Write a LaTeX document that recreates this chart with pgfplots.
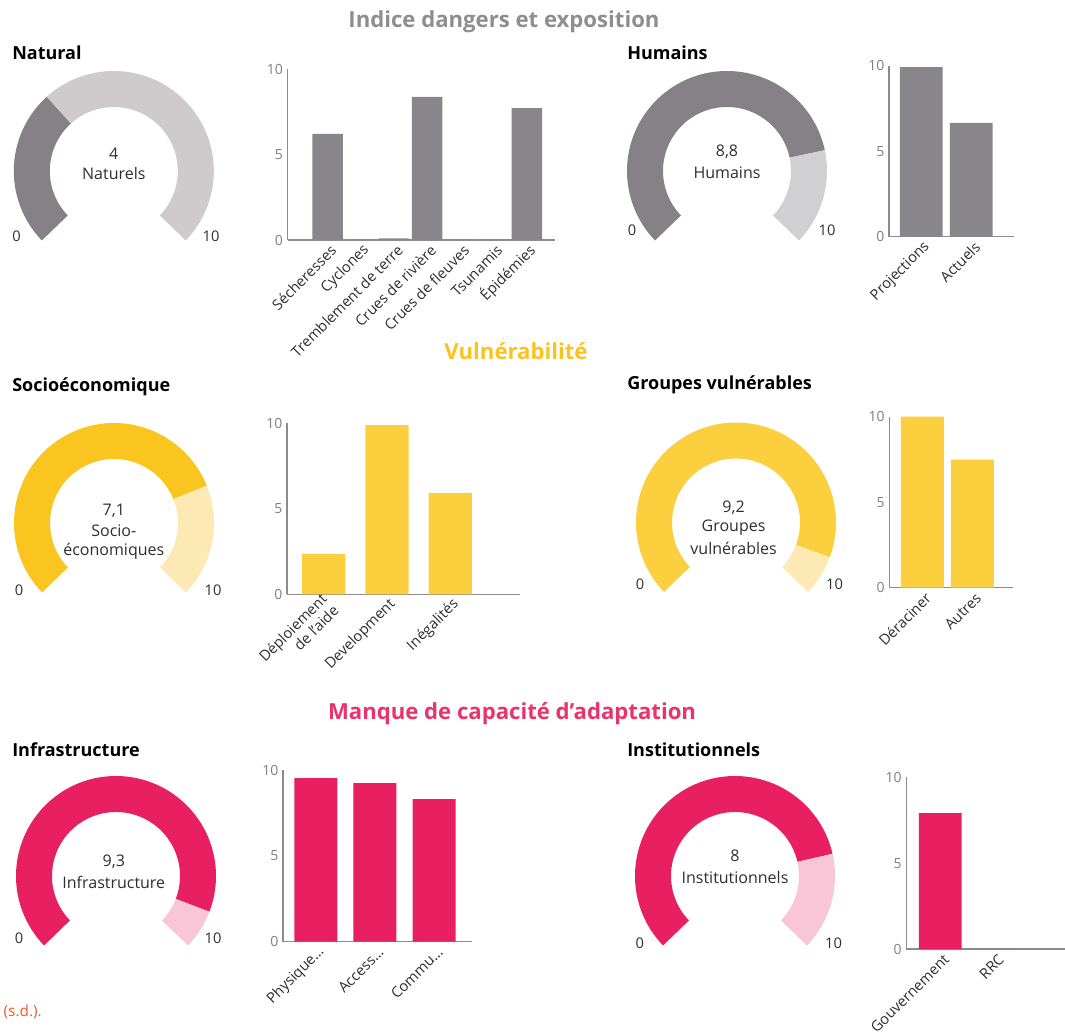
\documentclass[border=0pt]{standalone}
\usepackage{pgfplots}
\pgfplotsset{compat=1.18}
\usepackage{fontspec}
\setmainfont{Open Sans}
\definecolor{gdark}{HTML}{858186}
\definecolor{glight}{HTML}{CFCACC}
\definecolor{glight2}{HTML}{D0D0D2}
\definecolor{bgray}{HTML}{88858B}
\definecolor{ydark}{HTML}{FBC520}
\definecolor{ybarc}{HTML}{FCCF3E}
\definecolor{ylight}{HTML}{FDE9B3}
\definecolor{pdark}{HTML}{E81F61}
\definecolor{plight}{HTML}{F8C6D6}
\definecolor{axgray}{HTML}{8C8C8C}
\definecolor{tickgray}{HTML}{7F7F7F}
\definecolor{labdark}{HTML}{2E2E2E}
\definecolor{hgray}{HTML}{8E8D92}
\definecolor{hyellow}{HTML}{FBC31C}
\definecolor{hpink}{HTML}{E8336D}
\definecolor{src}{HTML}{F15A29}

\pgfplotsset{
  barax/.style={scale only axis, enlargelimits=false, ymin=0, ymax=10,
    ytick={0,5,10}, axis x line=bottom, axis y line=left,
    axis line style={-, draw=axgray, line width=0.9pt},
    major tick length=0pt, xtick=data,
    yticklabel style={text=tickgray, font=\fontsize{10.5}{12}\selectfont},
    xticklabel style={yshift=-3.5pt, xshift=7pt, rotate=45, anchor=east, text=labdark, align=right,
      font=\fontsize{11}{12.5}\selectfont},
    /pgf/number format/assume math mode=true,
    anchor=south west, clip=false},
}

% gauge: cx, cy (px), value, dark colour, light colour
\newcommand{\gauge}[5]{%
  \pgfmathsetmacro{\ga}{224-26.8*#3}%
  \begin{axis}[at={(#1*0.75pt,-#2*0.75pt)}, anchor=center, hide axis, clip=false,
      x=0.75pt, y=0.75pt, xmin=-110, xmax=110, ymin=-110, ymax=110]
    \fill[#4] (axis cs:{100*cos(224)},{100*sin(224)}) arc[start angle=224, end angle=\ga, radius=75pt]
      -- (axis cs:{64*cos(\ga)},{64*sin(\ga)}) arc[start angle=\ga, end angle=224, radius=48pt] -- cycle;
    \fill[#5] (axis cs:{100*cos(\ga)},{100*sin(\ga)}) arc[start angle=\ga, end angle=-44, radius=75pt]
      -- (axis cs:{64*cos(-44)},{64*sin(-44)}) arc[start angle=-44, end angle=\ga, radius=48pt] -- cycle;
  \end{axis}}

\begin{document}
\begin{tikzpicture}
\useasboundingbox (0,0) rectangle (798.75pt,-775.5pt);

% section headers
\tikzset{shead/.style={font=\bfseries\fontsize{16.6}{19}\selectfont}}
\node[shead, text=hgray] at (504*0.75pt,-22*0.75pt) {Indice dangers et exposition};
\node[shead, text=hyellow] at (516*0.75pt,-351*0.75pt) {Vulnérabilité};
\node[shead, text=hpink] at (512*0.75pt,-714*0.75pt) {Manque de capacité d’adaptation};

% panel titles
\tikzset{ptitle/.style={anchor=west, inner sep=0pt, font=\bfseries\fontsize{13.5}{16}\selectfont}}
\node[ptitle] at (12*0.75pt,-53*0.75pt) {Natural};
\node[ptitle] at (627*0.75pt,-53*0.75pt) {Humains};
\node[ptitle] at (12*0.75pt,-386.5*0.75pt) {Socioéconomique};
\node[ptitle] at (627*0.75pt,-385*0.75pt) {Groupes vulnérables};
\node[ptitle] at (12*0.75pt,-750*0.75pt) {Infrastructure};
\node[ptitle] at (627*0.75pt,-750*0.75pt) {Institutionnels};

% gauges
\gauge{113.8}{171}{3.43}{gdark}{glight}
\gauge{727}{171}{7.91}{gdark}{glight2}
\gauge{114}{523}{7.54}{ydark}{ylight}
\gauge{736}{522.5}{9.12}{ybarc}{ylight}
\gauge{116}{876}{9.14}{pdark}{plight}
\gauge{735}{876}{7.88}{pdark}{plight}

\tikzset{gtxt/.style={inner sep=0pt, text=labdark, font=\fontsize{12}{13}\selectfont},
         gnum/.style={inner sep=0pt, text=labdark, font=\fontsize{11}{13}\selectfont}}
\node[gtxt] at (113.8*0.75pt,-154*0.75pt) {4};
\node[gtxt] at (113.8*0.75pt,-174*0.75pt) {Naturels};
\node[gnum] at (16.5*0.75pt,-236*0.75pt) {0};
\node[gnum] at (211*0.75pt,-236*0.75pt) {10};

\node[gtxt] at (727*0.75pt,-152*0.75pt) {8,8};
\node[gtxt] at (727*0.75pt,-173*0.75pt) {Humains};
\node[gnum] at (632*0.75pt,-230*0.75pt) {0};
\node[gnum] at (827*0.75pt,-230*0.75pt) {10};

\node[gtxt] at (113.8*0.75pt,-511*0.75pt) {7,1};
\node[gtxt] at (113.8*0.75pt,-531*0.75pt) {Socio-};
\node[gtxt] at (113.8*0.75pt,-551*0.75pt) {économiques};
\node[gnum] at (19*0.75pt,-590*0.75pt) {0};
\node[gnum] at (213*0.75pt,-590*0.75pt) {10};

\node[gtxt] at (733.6*0.75pt,-508*0.75pt) {9,2};
\node[gtxt] at (733.6*0.75pt,-528*0.75pt) {Groupes};
\node[gtxt] at (733.6*0.75pt,-548*0.75pt) {vulnérables};
\node[gnum] at (640*0.75pt,-584*0.75pt) {0};
\node[gnum] at (834.6*0.75pt,-584*0.75pt) {10};

\node[gtxt] at (113.8*0.75pt,-862*0.75pt) {9,3};
\node[gtxt] at (113.8*0.75pt,-882*0.75pt) {Infrastructure};
\node[gnum] at (19*0.75pt,-938*0.75pt) {0};
\node[gnum] at (213*0.75pt,-938*0.75pt) {10};

\node[gtxt] at (735*0.75pt,-856*0.75pt) {8};
\node[gtxt] at (735*0.75pt,-877*0.75pt) {Institutionnels};
\node[gnum] at (639.7*0.75pt,-943*0.75pt) {0};
\node[gnum] at (833.6*0.75pt,-943*0.75pt) {10};

% bar charts
\begin{axis}[barax, at={(287.7*0.75pt,-240*0.75pt)}, width=267.3*0.75pt, height=170.7*0.75pt,
  xmin=-1.199, xmax=6.85,
  xticklabels={Sécheresses, Cyclones, Tremblement de terre, Crues de rivière, Crues de fleuves, Tsunamis, Épidémies}]
  \addplot[ybar, fill=bgray, draw=none, bar width=30.5*0.75pt] coordinates {(0,6.21) (1,0) (2,0.1) (3,8.38) (4,0) (5,0) (6,7.73)};
\end{axis}

\begin{axis}[barax, at={(889*0.75pt,-236.7*0.75pt)}, width=124.7*0.75pt, height=171*0.75pt,
  xmin=-0.646, xmax=1.848, xticklabels={Projections, Actuels}]
  \addplot[ybar, fill=bgray, draw=none, bar width=42.7*0.75pt] coordinates {(0,9.92) (1,6.65)};
\end{axis}

\begin{axis}[barax, at={(287*0.75pt,-594.3*0.75pt)}, width=233*0.75pt, height=171*0.75pt,
  xmin=-0.582, xmax=3.104, xticklabels={{Déploiement\\de l'aide}, Development, Inégalités}]
  \addplot[ybar, fill=ybarc, draw=none, bar width=43.3*0.75pt] coordinates {(0,2.36) (1,9.9) (2,5.93)};
\end{axis}

\begin{axis}[barax, at={(889.3*0.75pt,-587.7*0.75pt)}, width=123.4*0.75pt, height=171*0.75pt,
  xmin=-0.657, xmax=1.801, xticklabels={Déraciner, Autres}]
  \addplot[ybar, fill=ybarc, draw=none, bar width=43*0.75pt] coordinates {(0,10) (1,7.49)};
\end{axis}

\begin{axis}[barax, at={(283*0.75pt,-941.7*0.75pt)}, width=188.7*0.75pt, height=171.7*0.75pt,
  xmin=-0.557, xmax=2.638, xticklabels={Physique…, Access…, Commu…}]
  \addplot[ybar, fill=pdark, draw=none, bar width=43*0.75pt] coordinates {(0,9.53) (1,9.24) (2,8.31)};
\end{axis}

\begin{axis}[barax, at={(906.3*0.75pt,-949*0.75pt)}, width=170*0.75pt, height=171.7*0.75pt,
  xmin=-0.618, xmax=2.473, xticklabels={Gouvernement, RRC}]
  \addplot[ybar, fill=pdark, draw=none, bar width=42.7*0.75pt] coordinates {(0,7.92) (1,0)};
\end{axis}

% source fragment
\node[anchor=east, inner sep=0pt, text=src, font=\fontsize{11.5}{13}\selectfont] at (42*0.75pt,-1012*0.75pt) {(s.d.).};
\end{tikzpicture}
\end{document}
